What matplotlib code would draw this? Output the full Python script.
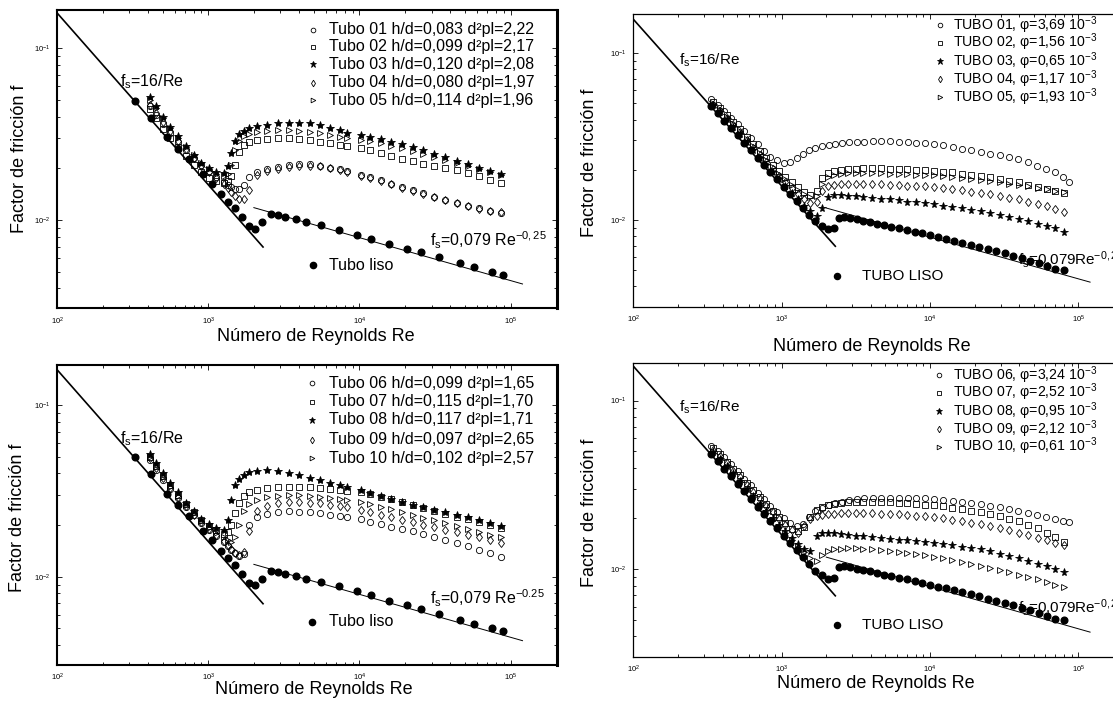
import matplotlib
matplotlib.use("Agg")
import matplotlib.pyplot as plt
from matplotlib.ticker import LogLocator, NullFormatter

plt.rcParams["font.family"] = ["Liberation Sans", "DejaVu Sans"]
plt.rcParams["mathtext.fontset"] = "custom"
plt.rcParams["mathtext.rm"] = "Liberation Sans"
plt.rcParams["mathtext.it"] = "Liberation Sans:italic"
plt.rcParams["mathtext.bf"] = "Liberation Sans:bold"
plt.rcParams["mathtext.default"] = "regular"

# reference correlations (end points of the straight lines in log-log)
lam_re = [100, 2300]
lam_f = [0.16, 0.00696]
turb_re = [2000, 120000]
turb_f = [0.0118, 0.00424]

# ---- left panels (h/d, d2pl) ----
re_left = [410, 450, 500, 560, 630, 710, 800, 900, 1010, 1130,
           1260, 1350, 1420, 1500, 1600, 1720, 1870, 2100, 2450, 2900,
           3400, 4000, 4700, 5500, 6400, 7400, 8300, 10200, 11800, 13800,
           16200, 19000, 22500, 26500, 31000, 37000, 44000, 52000, 62000, 73000,
           86000]

p1_t01 = [0.046, 0.041, 0.036, 0.032, 0.0285, 0.0255, 0.023, 0.021, 0.0193, 0.0178,
          0.0166, 0.016, 0.0155, 0.0152, 0.0152, 0.0160, 0.0178, 0.0191, 0.0198, 0.0204,
          0.0208, 0.0211, 0.0211, 0.0207, 0.0202, 0.0197, 0.0192, 0.0183, 0.0177, 0.0170,
          0.0163, 0.0156, 0.0149, 0.0143, 0.0137, 0.0131, 0.0126, 0.0121, 0.0117, 0.0113,
          0.0110]
p1_t02 = [0.044, 0.039, 0.034, 0.030, 0.0265, 0.0235, 0.021, 0.019, 0.0176, 0.0168,
          0.0165, 0.0168, 0.018, 0.021, 0.025, 0.0272, 0.0284, 0.0293, 0.0298, 0.0300,
          0.0299, 0.0296, 0.0292, 0.0286, 0.0280, 0.0274, 0.0268, 0.0262, 0.0254, 0.0245,
          0.0236, 0.0228, 0.0220, 0.0213, 0.0207, 0.0201, 0.0195, 0.0188, 0.0180, 0.0172,
          0.0165]
p1_t03 = [0.052, 0.046, 0.040, 0.035, 0.031, 0.027, 0.024, 0.0215, 0.020, 0.019,
          0.0188, 0.0205, 0.0245, 0.029, 0.0315, 0.033, 0.0342, 0.0352, 0.0358, 0.0366,
          0.0369, 0.0369, 0.0366, 0.0358, 0.0345, 0.0332, 0.0322, 0.0313, 0.0305, 0.0296,
          0.0286, 0.0276, 0.0265, 0.0254, 0.0243, 0.0232, 0.0222, 0.0212, 0.0202, 0.0194,
          0.0186]
p1_t04 = [0.047, 0.042, 0.037, 0.033, 0.029, 0.0258, 0.023, 0.0207, 0.019, 0.0175,
          0.0162, 0.0153, 0.0145, 0.0138, 0.0133, 0.0132, 0.0150, 0.0183, 0.0193, 0.0199,
          0.0204, 0.0207, 0.0207, 0.0205, 0.0200, 0.0195, 0.0190, 0.0181, 0.0175, 0.0168,
          0.0161, 0.0154, 0.0148, 0.0142, 0.0136, 0.0130, 0.0125, 0.0120, 0.0116, 0.0113,
          0.0111]
p1_t05 = [0.050, 0.045, 0.039, 0.0345, 0.030, 0.0265, 0.0238, 0.0215, 0.0198, 0.0186,
          0.0180, 0.0185, 0.0210, 0.0255, 0.0290, 0.0308, 0.0318, 0.0325, 0.0330, 0.0332,
          0.0332, 0.0330, 0.0326, 0.0320, 0.0313, 0.0306, 0.0300, 0.0294, 0.0287, 0.0279,
          0.0270, 0.0261, 0.0251, 0.0242, 0.0233, 0.0224, 0.0215, 0.0206, 0.0198, 0.0190,
          0.0182]

p3_t06 = [0.048, 0.042, 0.0368, 0.0325, 0.0287, 0.0255, 0.0228, 0.0206, 0.0188, 0.0173,
          0.016, 0.0150, 0.0143, 0.0137, 0.0132, 0.0135, 0.0200, 0.0222, 0.0232, 0.0238,
          0.0240, 0.0239, 0.0237, 0.0234, 0.0230, 0.0226, 0.0223, 0.0216, 0.0209, 0.0202,
          0.0196, 0.0190, 0.0184, 0.0178, 0.0171, 0.0164, 0.0157, 0.0150, 0.0143, 0.0137,
          0.0131]
p3_t07 = [0.050, 0.044, 0.0385, 0.034, 0.030, 0.0265, 0.0237, 0.0214, 0.0198, 0.0186,
          0.0178, 0.0182, 0.0200, 0.0235, 0.0270, 0.0295, 0.0312, 0.0322, 0.0330, 0.0334,
          0.0335, 0.0334, 0.0332, 0.0329, 0.0325, 0.0320, 0.0316, 0.0310, 0.0302, 0.0292,
          0.0282, 0.0271, 0.0261, 0.0251, 0.0242, 0.0233, 0.0224, 0.0216, 0.0207, 0.0199,
          0.0191]
p3_t08 = [0.052, 0.046, 0.040, 0.035, 0.031, 0.027, 0.024, 0.0218, 0.0203, 0.0192,
          0.0188, 0.0215, 0.028, 0.034, 0.037, 0.039, 0.0405, 0.0415, 0.0418, 0.0412,
          0.0402, 0.0390, 0.0378, 0.0365, 0.0352, 0.0340, 0.0332, 0.0318, 0.0307, 0.0295,
          0.0283, 0.0272, 0.0262, 0.0253, 0.0245, 0.0237, 0.0229, 0.0222, 0.0214, 0.0206,
          0.0198]
p3_t09 = [0.049, 0.043, 0.0375, 0.033, 0.029, 0.0258, 0.023, 0.0208, 0.019, 0.0175,
          0.0162, 0.0152, 0.0145, 0.0138, 0.0133, 0.0140, 0.0185, 0.0240, 0.0258, 0.0268,
          0.0272, 0.0272, 0.0270, 0.0267, 0.0263, 0.0258, 0.0255, 0.0245, 0.0238, 0.0230,
          0.0222, 0.0215, 0.0208, 0.0201, 0.0195, 0.0188, 0.0182, 0.0176, 0.0170, 0.0163,
          0.0157]
p3_t10 = [0.0495, 0.0435, 0.038, 0.0335, 0.0295, 0.0262, 0.0234, 0.0211, 0.0193, 0.0180,
          0.0170, 0.0163, 0.0160, 0.0170, 0.0200, 0.0240, 0.0265, 0.0280, 0.0290, 0.0296,
          0.0298, 0.0298, 0.0296, 0.0293, 0.0289, 0.0285, 0.0281, 0.0272, 0.0264, 0.0256,
          0.0247, 0.0238, 0.0229, 0.0221, 0.0213, 0.0205, 0.0197, 0.0190, 0.0183, 0.0176,
          0.0170]

liso_left_re = [325, 420, 535, 630, 740, 920, 1050, 1210, 1350, 1500,
                1680, 1870, 2030, 2260, 2590, 2890, 3220, 3790, 4460, 5550,
                7290, 9570, 11900, 15600, 20500, 25500, 33500, 46400, 57700, 75700,
                89100]
liso_left_f = [0.0495, 0.0395, 0.0305, 0.026, 0.0225, 0.0185, 0.0163, 0.0142, 0.0128, 0.0117,
               0.0104, 0.0092, 0.0089, 0.0097, 0.0108, 0.0107, 0.0104, 0.0101, 0.0097, 0.0093,
               0.0088, 0.0082, 0.0078, 0.0072, 0.0068, 0.0065, 0.0061, 0.0056, 0.0053, 0.0050,
               0.0048]

# ---- right panels (phi) ----
re_right_a = [335, 370, 410, 455, 505, 560, 620, 690, 760, 840,
              930, 1030, 1140, 1260, 1390, 1530, 1690, 1870, 2070, 2300,
              2550, 2850, 3200, 3600, 4100, 4700, 5400, 6200, 7100, 8100,
              9300, 10700, 12300, 14200, 16400, 19000, 22000, 25500, 29500, 34000,
              39500, 46000, 53000, 61000, 70000, 79000, 86000]
re_right_b = [345, 385, 425, 470, 520, 580, 640, 710, 790, 870,
              960, 1060, 1170, 1290, 1420, 1560, 1720, 1880, 2050, 2250,
              2500, 2800, 3150, 3550, 4050, 4650, 5350, 6150, 7050, 8050,
              9250, 10650, 12250, 14150, 16350, 18950, 21950, 25450, 29450, 34100,
              39600, 46100, 53100, 61100, 70100, 80100]

p2_t01 = [0.053, 0.049, 0.045, 0.041, 0.0375, 0.034, 0.031, 0.0285, 0.026, 0.024,
          0.0228, 0.022, 0.0222, 0.0235, 0.025, 0.0262, 0.0272, 0.0278, 0.0283, 0.0287,
          0.0289, 0.0292, 0.0294, 0.0295, 0.0296, 0.0296, 0.0296, 0.0295, 0.0293, 0.0291,
          0.0289, 0.0285, 0.0280, 0.0274, 0.0268, 0.0262, 0.0255, 0.0250, 0.0244, 0.0238,
          0.0231, 0.0222, 0.0212, 0.0203, 0.0193, 0.0180, 0.0168]
p2_t02 = [0.051, 0.047, 0.0425, 0.0385, 0.035, 0.0315, 0.0285, 0.026, 0.0235, 0.0215,
          0.0197, 0.0182, 0.0168, 0.0157, 0.0148, 0.0142, 0.0150, 0.0178, 0.0192, 0.0197,
          0.0200, 0.0202, 0.0203, 0.0204, 0.0204, 0.0204, 0.0203, 0.0202, 0.0201, 0.0200,
          0.0199, 0.0197, 0.0195, 0.0193, 0.0190, 0.0187, 0.0184, 0.0180, 0.0176, 0.0172,
          0.0168, 0.0163, 0.0158, 0.0153, 0.0149, 0.0145]
p2_t03 = [0.049, 0.0445, 0.0402, 0.0362, 0.0327, 0.0292, 0.0263, 0.0237, 0.0213, 0.0193,
          0.0175, 0.0159, 0.0145, 0.0133, 0.0122, 0.0113, 0.0106, 0.0118, 0.0138, 0.0142,
          0.0141, 0.0140, 0.0139, 0.0137, 0.0136, 0.0134, 0.0133, 0.0131, 0.0129, 0.0128,
          0.0126, 0.0124, 0.0122, 0.0120, 0.0118, 0.0115, 0.0113, 0.0110, 0.0107, 0.0104,
          0.0101, 0.0098, 0.0095, 0.0092, 0.0089, 0.0085]
p2_t04 = [0.049, 0.045, 0.041, 0.037, 0.0335, 0.030, 0.027, 0.0245, 0.0222, 0.0202,
          0.0184, 0.0169, 0.0155, 0.0144, 0.0134, 0.0126, 0.0128, 0.0150, 0.0160, 0.0163,
          0.0164, 0.0165, 0.0165, 0.0165, 0.0165, 0.0164, 0.0163, 0.0162, 0.0161, 0.0160,
          0.0159, 0.0157, 0.0155, 0.0153, 0.0151, 0.0148, 0.0146, 0.0143, 0.0140, 0.0136,
          0.0133, 0.0129, 0.0125, 0.0121, 0.0117, 0.0112]
p2_t05 = [0.050, 0.046, 0.0415, 0.0375, 0.034, 0.0305, 0.0277, 0.0252, 0.0228, 0.0208,
          0.019, 0.0175, 0.0162, 0.0151, 0.0143, 0.0137, 0.0140, 0.0165, 0.0180, 0.0186,
          0.0189, 0.0191, 0.0192, 0.0192, 0.0192, 0.0191, 0.0190, 0.0189, 0.0188, 0.0187,
          0.0186, 0.0185, 0.0183, 0.0181, 0.0179, 0.0177, 0.0174, 0.0171, 0.0168, 0.0165,
          0.0162, 0.0159, 0.0156, 0.0153, 0.0150, 0.0148]

p4_t06 = [0.054, 0.050, 0.046, 0.042, 0.038, 0.0345, 0.0315, 0.0285, 0.026, 0.0238,
          0.0218, 0.0200, 0.0187, 0.0180, 0.0185, 0.0205, 0.0222, 0.0232, 0.0240, 0.0246,
          0.0251, 0.0256, 0.0260, 0.0263, 0.0265, 0.0266, 0.0266, 0.0266, 0.0265, 0.0264,
          0.0263, 0.0261, 0.0258, 0.0255, 0.0251, 0.0247, 0.0243, 0.0238, 0.0233, 0.0228,
          0.0223, 0.0217, 0.0211, 0.0205, 0.0199, 0.0194, 0.0191]
p4_t07 = [0.052, 0.048, 0.0435, 0.0395, 0.036, 0.0325, 0.0295, 0.0268, 0.0243, 0.0222,
          0.0203, 0.0187, 0.0174, 0.0168, 0.0178, 0.0205, 0.0225, 0.0235, 0.0240, 0.0244,
          0.0247, 0.0249, 0.0250, 0.0251, 0.0251, 0.0250, 0.0249, 0.0248, 0.0246, 0.0244,
          0.0242, 0.0239, 0.0236, 0.0232, 0.0228, 0.0223, 0.0218, 0.0212, 0.0206, 0.0199,
          0.0192, 0.0184, 0.0175, 0.0165, 0.0155, 0.0146]
p4_t08 = [0.0495, 0.0452, 0.041, 0.037, 0.0335, 0.0300, 0.0272, 0.0245, 0.0222, 0.0202,
          0.0184, 0.0168, 0.0154, 0.0142, 0.0131, 0.0128, 0.0158, 0.0165, 0.0164, 0.0163,
          0.0162, 0.0160, 0.0158, 0.0157, 0.0155, 0.0154, 0.0152, 0.0150, 0.0149, 0.0147,
          0.0145, 0.0143, 0.0141, 0.0139, 0.0136, 0.0134, 0.0131, 0.0128, 0.0124, 0.0120,
          0.0116, 0.0112, 0.0108, 0.0104, 0.0100, 0.0096]
p4_t09 = [0.051, 0.047, 0.0425, 0.0385, 0.035, 0.0317, 0.0288, 0.0262, 0.0238, 0.0218,
          0.0199, 0.0183, 0.0170, 0.0165, 0.0180, 0.0198, 0.0206, 0.0210, 0.0212, 0.0214,
          0.0215, 0.0216, 0.0216, 0.0216, 0.0215, 0.0214, 0.0213, 0.0212, 0.0210, 0.0208,
          0.0206, 0.0203, 0.0200, 0.0197, 0.0193, 0.0189, 0.0185, 0.0180, 0.0175, 0.0170,
          0.0165, 0.0159, 0.0154, 0.0149, 0.0144, 0.0140]
p4_t10 = [0.049, 0.0448, 0.0405, 0.0365, 0.033, 0.0296, 0.0267, 0.024, 0.0217, 0.0197,
          0.0179, 0.0163, 0.0149, 0.0137, 0.0126, 0.0117, 0.0112, 0.0122, 0.0128, 0.0131,
          0.0132, 0.0133, 0.0133, 0.0132, 0.0131, 0.0130, 0.0129, 0.0127, 0.0125, 0.0123,
          0.0121, 0.0119, 0.0116, 0.0114, 0.0111, 0.0108, 0.0105, 0.0102, 0.0099, 0.0096,
          0.0093, 0.0090, 0.0087, 0.0084, 0.0081, 0.0078]

liso_right_re = [335, 370, 410, 455, 505, 560, 620, 690, 760, 840,
                 930, 1030, 1140, 1260, 1390, 1530, 1690, 1870, 2050, 2250,
                 2450, 2650, 2900, 3200, 3550, 3950, 4400, 4900, 5500, 6200,
                 7000, 7900, 8900, 10000, 11300, 12800, 14500, 16500, 18800, 21500,
                 24500, 28000, 32000, 36500, 41500, 47500, 54000, 61500, 70000, 80000]
liso_right_f = [0.0485, 0.044, 0.0395, 0.0356, 0.0322, 0.029, 0.0262, 0.0235, 0.0213, 0.0193,
                0.0175, 0.0158, 0.0143, 0.013, 0.0118, 0.0107, 0.0098, 0.0092, 0.0088, 0.0089,
                0.0103, 0.0104, 0.0103, 0.0101, 0.0099, 0.0097, 0.0095, 0.0093, 0.0091, 0.0089,
                0.0087, 0.0085, 0.0083, 0.0081, 0.0079, 0.0077, 0.0075, 0.0073, 0.0071, 0.0069,
                0.0067, 0.0065, 0.0063, 0.0061, 0.0059, 0.0057, 0.0055, 0.0053, 0.0051, 0.0050]

labels_p1 = ["Tubo 01 h/d=0,083 d²pl=2,22", "Tubo 02 h/d=0,099 d²pl=2,17",
             "Tubo 03 h/d=0,120 d²pl=2,08", "Tubo 04 h/d=0,080 d²pl=1,97",
             "Tubo 05 h/d=0,114 d²pl=1,96"]
labels_p3 = ["Tubo 06 h/d=0,099 d²pl=1,65", "Tubo 07 h/d=0,115 d²pl=1,70",
             "Tubo 08 h/d=0,117 d²pl=1,71", "Tubo 09 h/d=0,097 d²pl=2,65",
             "Tubo 10 h/d=0,102 d²pl=2,57"]
labels_p2 = ["TUBO 01, φ=3,69 10$^{-3}$", "TUBO 02, φ=1,56 10$^{-3}$",
             "TUBO 03, φ=0,65 10$^{-3}$", "TUBO 04, φ=1,17 10$^{-3}$",
             "TUBO 05, φ=1,93 10$^{-3}$"]
labels_p4 = ["TUBO 06, φ=3,24 10$^{-3}$", "TUBO 07, φ=2,52 10$^{-3}$",
             "TUBO 08, φ=0,95 10$^{-3}$", "TUBO 09, φ=2,12 10$^{-3}$",
             "TUBO 10, φ=0,61 10$^{-3}$"]

markers = ["o", "s", "*", "d", ">"]
filled = [False, False, True, False, False]

W, H = 1113, 707
fig = plt.figure(figsize=(W / 100, H / 100), dpi=100)


def add_panel(l, r, t, b, xmax, ylim, spine_lw):
    ax = fig.add_axes([l / W, 1 - b / H, (r - l) / W, (b - t) / H])
    ax.set_xscale("log")
    ax.set_yscale("log")
    ax.set_xlim(100, xmax)
    ax.set_ylim(*ylim)
    ax.xaxis.set_major_locator(LogLocator(base=10, numticks=10))
    ax.xaxis.set_minor_formatter(NullFormatter())
    ax.yaxis.set_minor_formatter(NullFormatter())
    ax.tick_params(which="both", direction="in", top=True, right=True,
                   width=0.6, labelsize=5.5, pad=5)
    ax.tick_params(which="major", length=3.5)
    ax.tick_params(which="minor", length=2)
    for s in ax.spines.values():
        s.set_linewidth(spine_lw)
    return ax


def style(i, ms):
    return dict(ls="none", marker=markers[i], color="black",
                ms=ms * (1.35 if markers[i] == "*" else 1.0),
                mfc="black" if filled[i] else "none", mec="black", mew=0.6)


panels = [
    dict(box=(57.3, 557, 10, 308.3), xmax=2.03e5, ylim=(3.06e-3, 0.167), spine=1.5,
         re=[re_left] * 5, f=[p1_t01, p1_t02, p1_t03, p1_t04, p1_t05], labels=labels_p1,
         liso=(liso_left_re, liso_left_f), liso_label="Tubo liso",
         leg_x=(0.511, 0.543), leg_y=[0.933, 0.877, 0.818, 0.756, 0.698],
         liso_xy=(0.511, 0.543, 0.144), fs=11.5, ms=4.5, liso_ms=4.8, leg_fs=11.5,
         lam_txt=(259, 0.0637), turb_txt=(29400, 0.0076),
         turb_label="f$_s$=0,079 Re$^{-0,25}$",
         xl=(0.518, -0.095), yl=(-0.075, 0.5)),
    dict(box=(633.3, 1123, 14, 306.7), xmax=2e5, ylim=(3.02e-3, 0.172), spine=0.9,
         re=[re_right_a] + [re_right_b] * 4, f=[p2_t01, p2_t02, p2_t03, p2_t04, p2_t05],
         labels=labels_p2, liso=(liso_right_re, liso_right_f), liso_label="TUBO LISO",
         leg_x=(0.627, 0.652), leg_y=[0.962, 0.902, 0.839, 0.778, 0.717],
         liso_xy=(0.415, 0.466, 0.106), fs=11, ms=4.4, liso_ms=4.8, leg_fs=10.2,
         lam_txt=(202, 0.0905), turb_txt=(39200, 0.0058),
         turb_label="f$_s$=0,079Re$^{-0,25}$",
         xl=(0.487, -0.137), yl=(-0.090, 0.49)),
    dict(box=(57.3, 557, 365, 665), xmax=2.03e5, ylim=(3.06e-3, 0.171), spine=1.5,
         re=[re_left] * 5, f=[p3_t06, p3_t07, p3_t08, p3_t09, p3_t10], labels=labels_p3,
         liso=(liso_left_re, liso_left_f), liso_label="Tubo liso",
         leg_x=(0.509, 0.543), leg_y=[0.939, 0.878, 0.817, 0.750, 0.689],
         liso_xy=(0.509, 0.543, 0.144), fs=11.5, ms=4.5, liso_ms=4.8, leg_fs=11.5,
         lam_txt=(259, 0.064), turb_txt=(29400, 0.0075),
         turb_label="f$_s$=0,079 Re$^{-0.25}$",
         xl=(0.514, -0.083), yl=(-0.079, 0.49)),
    dict(box=(633.3, 1123, 363, 656.5), xmax=2e5, ylim=(3.04e-3, 0.167), spine=0.9,
         re=[re_right_a] + [re_right_b] * 4, f=[p4_t06, p4_t07, p4_t08, p4_t09, p4_t10],
         labels=labels_p4, liso=(liso_right_re, liso_right_f), liso_label="TUBO LISO",
         leg_x=(0.625, 0.652), leg_y=[0.959, 0.899, 0.836, 0.775, 0.715],
         liso_xy=(0.415, 0.466, 0.107), fs=11, ms=4.4, liso_ms=4.8, leg_fs=10.2,
         lam_txt=(202, 0.0914), turb_txt=(39200, 0.0059),
         turb_label="f$_s$=0,079Re$^{-0,25}$",
         xl=(0.495, -0.092), yl=(-0.089, 0.49)),
]

for p in panels:
    ax = add_panel(*p["box"], p["xmax"], p["ylim"], p["spine"])
    ax.plot(lam_re, lam_f, color="black", lw=1.2)
    ax.plot(turb_re, turb_f, color="black", lw=0.7)

    for i in range(5):
        ax.plot(p["re"][i], p["f"][i], **style(i, p["ms"]))
        ax.plot([p["leg_x"][0]], [p["leg_y"][i]], transform=ax.transAxes,
                clip_on=False, **style(i, p["ms"] * 0.75))
        ax.text(p["leg_x"][1], p["leg_y"][i], p["labels"][i], transform=ax.transAxes,
                ha="left", va="center", fontsize=p["leg_fs"])

    ax.plot(p["liso"][0], p["liso"][1], ls="none", marker="o", ms=p["liso_ms"],
            color="black", mfc="black", mec="black")
    mx, tx, ly = p["liso_xy"]
    ax.plot([mx], [ly], transform=ax.transAxes, ls="none", marker="o",
            ms=p["ms"], color="black")
    ax.text(tx, ly, p["liso_label"], transform=ax.transAxes, ha="left",
            va="center", fontsize=p["fs"])

    ax.text(*p["lam_txt"], "f$_s$=16/Re", ha="left", va="center", fontsize=p["fs"])
    # the right-hand copies run past the page edge, as in the scan
    ax.text(*p["turb_txt"], p["turb_label"], ha="left", va="center",
            fontsize=p["fs"], clip_on=False)

    ax.text(*p["xl"], "Número de Reynolds Re", transform=ax.transAxes,
            ha="center", va="center", fontsize=13)
    ax.text(*p["yl"], "Factor de fricción f", transform=ax.transAxes,
            ha="center", va="center", rotation=90, fontsize=13)

    if p["spine"] > 1:
        ax.spines["right"].set_linewidth(2.2)

fig.savefig("out.png", dpi=100)
plt.close(fig)
